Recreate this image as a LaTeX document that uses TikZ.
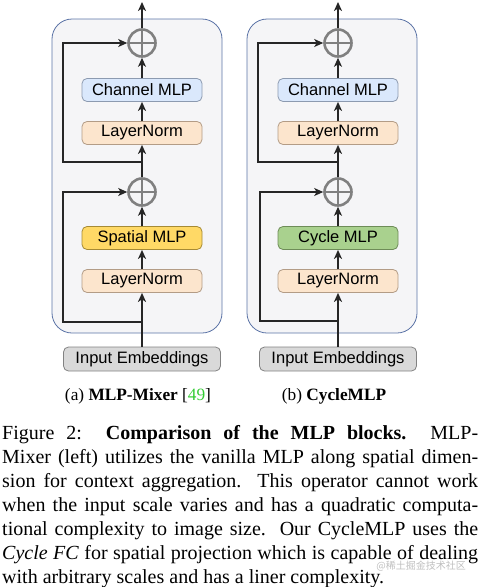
\documentclass[tikz,border=0pt]{standalone}
\usepackage{fontspec}
\setmainfont{Liberation Serif}
\setsansfont{Liberation Sans}
\newfontfamily\cjkfont{Noto Sans CJK SC}
\usetikzlibrary{arrows.meta,calc}
\definecolor{panelfill}{HTML}{F5F5F7}
\definecolor{paneldraw}{HTML}{5B73A6}
\definecolor{chanfill}{HTML}{DAE8FC}
\definecolor{chandraw}{HTML}{8C9AB0}
\definecolor{lnfill}{HTML}{FCE5CD}
\definecolor{lndraw}{HTML}{B39C86}
\definecolor{spfill}{HTML}{FFD966}
\definecolor{spdraw}{HTML}{A68A34}
\definecolor{cyfill}{HTML}{A9D18E}
\definecolor{cydraw}{HTML}{6E8C58}
\definecolor{infill}{HTML}{D9D9D9}
\definecolor{indraw}{HTML}{828282}
\definecolor{plusgray}{HTML}{808080}
\definecolor{citegreen}{HTML}{33CC33}
\tikzset{
  panel/.style={draw=paneldraw, fill=panelfill, line width=0.8pt, rounded corners=20pt},
  blk/.style={rectangle, rounded corners=5pt, line width=0.8pt, minimum width=120pt, minimum height=23pt,
     inner sep=0pt, font=\sffamily\fontsize{16.5}{18}\selectfont},
  chanblk/.style={blk, draw=chandraw, fill=chanfill},
  lnblk/.style={blk, draw=lndraw, fill=lnfill},
  spblk/.style={blk, draw=spdraw, fill=spfill},
  cyblk/.style={blk, draw=cydraw, fill=cyfill},
  inblk/.style={blk, draw=indraw, fill=infill, minimum width=157pt, minimum height=24pt},
  plusnode/.style={circle, draw=plusgray, line width=2.6pt, minimum size=27pt, inner sep=0pt,
     path picture={\draw[plusgray, line width=2.6pt] (path picture bounding box.north) -- (path picture bounding box.south)
       (path picture bounding box.west) -- (path picture bounding box.east);}},
  conn/.style={line width=1.8pt, black!85, -{Stealth[length=9pt,width=8pt,inset=2.5pt]}},
  line/.style={line width=1.8pt, black!85},
}
\begin{document}
\begin{tikzpicture}[x=1pt,y=-1pt]
\useasboundingbox (0,0) rectangle (481,587);
% ---------- left: MLP-Mixer ----------
\draw[panel] (52,19) rectangle (222,333);
\node[inblk] (inA) at (142,359) {Input Embeddings};
\node[lnblk] (lnA1) at (142,281) {LayerNorm};
\node[spblk] (spA) at (142,238) {Spatial MLP};
\node[plusnode] (pA1) at (142,192) {};
\node[lnblk] (lnA2) at (142,133) {LayerNorm};
\node[chanblk] (chA) at (142,90) {Channel MLP};
\node[plusnode] (pA2) at (142,43) {};
\coordinate (outA) at (142,2);
\coordinate (sA1) at (142,322);
\coordinate (cA1) at (63,322);
\coordinate (sA2) at (142,162);
\coordinate (cA2) at (63,162);
\draw[conn] (inA) -- (lnA1);
\draw[conn] (lnA1) -- (spA);
\draw[conn] (spA) -- (pA1);
\draw[conn] (pA1) -- (lnA2);
\draw[conn] (lnA2) -- (chA);
\draw[conn] (chA) -- (pA2);
\draw[conn] (pA2) -- (outA);
\draw[conn] (sA1) -- (cA1) |- (pA1);
\draw[conn] (sA2) -- (cA2) |- (pA2);
% ---------- right: CycleMLP ----------
\draw[panel] (247,19) rectangle (417,333);
\node[inblk] (inB) at (338,359) {Input Embeddings};
\node[lnblk] (lnB1) at (338,281) {LayerNorm};
\node[cyblk] (cyB) at (338,238) {Cycle MLP};
\node[plusnode] (pB1) at (338,192) {};
\node[lnblk] (lnB2) at (338,133) {LayerNorm};
\node[chanblk] (chB) at (338,90) {Channel MLP};
\node[plusnode] (pB2) at (338,43) {};
\coordinate (outB) at (338,2);
\coordinate (sB1) at (338,321);
\coordinate (cB1) at (260,321);
\coordinate (sB2) at (338,162);
\coordinate (cB2) at (258,162);
\draw[conn] (inB) -- (lnB1);
\draw[conn] (lnB1) -- (cyB);
\draw[conn] (cyB) -- (pB1);
\draw[conn] (pB1) -- (lnB2);
\draw[conn] (lnB2) -- (chB);
\draw[conn] (chB) -- (pB2);
\draw[conn] (pB2) -- (outB);
\draw[conn] (sB1) -- (cB1) |- (pB1);
\draw[conn] (sB2) -- (cB2) |- (pB2);
% ---------- sub-captions ----------
\node[anchor=base, font=\fontsize{17.3}{20}\selectfont, inner sep=0pt] (capA) at (138,400) {(a) \textbf{MLP-Mixer} [{\color{citegreen}49}]};
\node[anchor=base, font=\fontsize{17.3}{20}\selectfont, inner sep=0pt] (capB) at (334,400) {(b) \textbf{CycleMLP}};
% ---------- caption ----------
\node[anchor=north west, inner sep=0pt, text width=476pt, align=justify,
      font=\fontsize{20}{24}\selectfont] (cap) at (2,425) {%
Figure 2:\ \ \textbf{Comparison of the MLP blocks.}\ \ MLP-\linebreak
Mixer (left) utilizes the vanilla MLP along spatial dimen-\linebreak
sion for context aggregation.\ \ This operator cannot work\linebreak
when the input scale varies and has a quadratic computa-\linebreak
tional complexity to image size.\ \ Our CycleMLP uses the\linebreak
\textit{Cycle FC} for spatial projection which is capable of dealing\linebreak
with arbitrary scales and has a liner complexity.};
\node[anchor=base east, inner sep=0pt, text=black!25, font=\cjkfont\fontsize{10}{12}\selectfont] (wm) at (466,569) {@稀土掘金技术社区};
\end{tikzpicture}
\end{document}
